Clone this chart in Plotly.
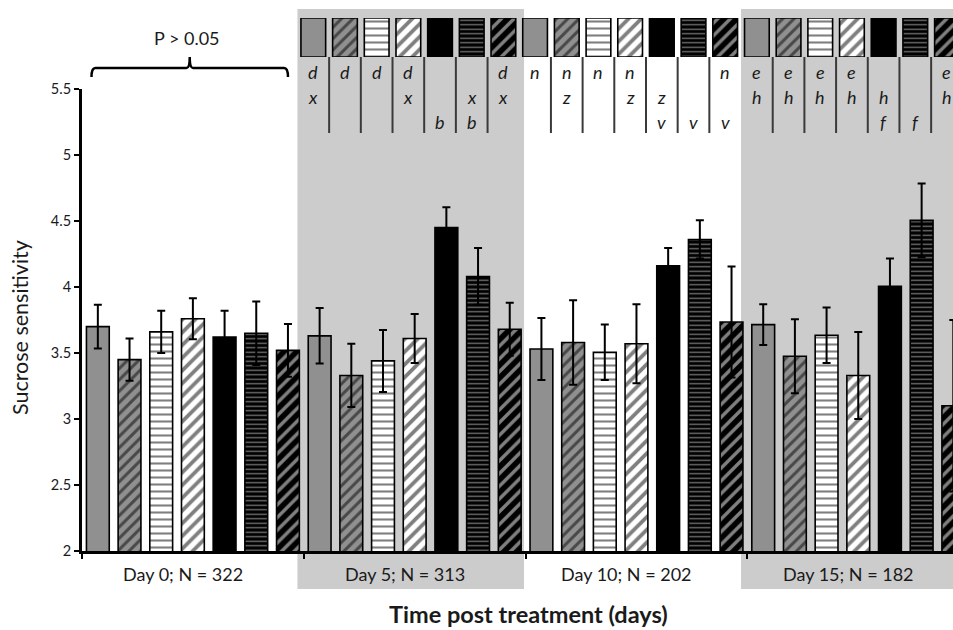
import plotly.graph_objects as go

# ---------------- data ----------------
day_labels = ["Day 0; N = 322", "Day 5; N = 313", "Day 10; N = 202", "Day 15; N = 182"]
y_tick_vals = [2, 2.5, 3, 3.5, 4, 4.5, 5, 5.5]
y_tick_text = ["2", "2.5", "3", "3.5", "4", "4.5", "5", "5.5"]

means_day0 = [3.70, 3.45, 3.66, 3.76, 3.62, 3.65, 3.52]
err_day0 = [0.165, 0.16, 0.16, 0.155, 0.20, 0.24, 0.20]
means_day5 = [3.63, 3.33, 3.44, 3.61, 4.45, 4.08, 3.68]
err_day5 = [0.21, 0.24, 0.235, 0.185, 0.155, 0.215, 0.20]
means_day10 = [3.53, 3.58, 3.505, 3.57, 4.16, 4.36, 3.735]
err_day10 = [0.235, 0.32, 0.21, 0.30, 0.135, 0.145, 0.42]
means_day15 = [3.715, 3.475, 3.635, 3.33, 4.005, 4.505, 3.10]
err_day15 = [0.155, 0.28, 0.21, 0.33, 0.21, 0.28, 0.65]

# significance letters per column (three rows each), days 5, 10, 15
letters_day5 = [["d", "x", ""], ["d", "", ""], ["d", "", ""], ["d", "x", ""],
                ["", "", "b"], ["", "x", "b"], ["d", "x", ""]]
letters_day10 = [["n", "", ""], ["n", "z", ""], ["n", "", ""], ["n", "z", ""],
                 ["", "z", "v"], ["", "", "v"], ["n", "", "v"]]
letters_day15 = [["e", "h", ""], ["e", "h", ""], ["e", "h", ""], ["e", "h", ""],
                 ["", "h", "f"], ["", "", "f"], ["e", "h", ""]]
p_label = "P > 0.05"

means = [means_day0, means_day5, means_day10, means_day15]
errs = [err_day0, err_day5, err_day10, err_day15]
letters = [None, letters_day5, letters_day10, letters_day15]

# ---------------- styles ----------------
GRAY = "#909090"
styles = [
    dict(color=GRAY, pattern=None),
    dict(color=GRAY, pattern=dict(shape="/", fgcolor="black", size=8, solidity=0.38, fillmode="overlay")),
    dict(color="white", pattern=dict(shape="-", fgcolor="black", size=7, solidity=0.3, fillmode="overlay")),
    dict(color="white", pattern=dict(shape="/", fgcolor="black", size=9, solidity=0.42, fillmode="overlay")),
    dict(color="black", pattern=None),
    dict(color="black", pattern=dict(shape="-", fgcolor="#e6e6e6", size=4.5, solidity=0.3, fillmode="overlay")),
    dict(color="black", pattern=dict(shape="/", fgcolor="white", size=9, solidity=0.38, fillmode="overlay")),
]

W, H = 953, 630
FONT = "Lato"
TXT = "#1a1a1a"
n_groups = len(means)
n_treat = len(means_day0)
SHIFT = -0.2  # header table offset


def py(px):
    return 1 - px / H


fig = go.Figure()

for k in range(n_treat):
    st = styles[k]
    marker = dict(color=st["color"], line=dict(color="black", width=1.6))
    if st["pattern"]:
        marker["pattern"] = st["pattern"]
    fig.add_trace(go.Bar(
        x=[g * n_treat + k for g in range(n_groups)],
        y=[means[g][k] for g in range(n_groups)],
        width=0.72,
        marker=marker,
        error_y=dict(type="data", array=[errs[g][k] for g in range(n_groups)],
                     color="black", thickness=2, width=4),
        showlegend=False, hoverinfo="skip",
    ))
    # header swatches
    fig.add_trace(go.Bar(
        x=[g * n_treat + k + SHIFT for g in range(1, n_groups)],
        y=[1] * (n_groups - 1), base=0,
        width=0.78,
        marker=marker,
        yaxis="y2",
        showlegend=False, hoverinfo="skip",
    ))

shapes = []
annotations = []

# shaded day bands
for g in (1, 3):
    shapes.append(dict(type="rect", xref="x", yref="paper",
                       x0=g * n_treat - 0.7, x1=g * n_treat + 6.45,
                       y0=py(589), y1=py(9),
                       fillcolor="#cccccc", line=dict(width=0), layer="below"))

# letters and separators
row_px = [72, 97, 122]
for g in range(1, n_groups):
    for k in range(n_treat):
        xc = g * n_treat + k + SHIFT
        for r, t in enumerate(letters[g][k]):
            if t:
                annotations.append(dict(x=xc, y=py(row_px[r]), xref="x", yref="paper",
                                        text="<i>" + t + "</i>", showarrow=False,
                                        font=dict(family=FONT, size=18, color=TXT),
                                        xanchor="center", yanchor="middle"))
        if k < n_treat - 1:
            shapes.append(dict(type="line", xref="x", yref="paper",
                               x0=xc + 0.5, x1=xc + 0.5, y0=py(133), y1=py(57),
                               line=dict(color="#3a3a3a", width=2)))

# brace over day 0
bx0, bx1 = -0.2, 6.0
bm = (bx0 + bx1) / 2
yl, yh, yt = py(68), py(77), py(57)
brace = (f"M {bx0},{yh} Q {bx0},{yl} {bx0+0.12},{yl} L {bm-0.1},{yl} Q {bm},{yl} {bm},{yt} "
         f"Q {bm},{yl} {bm+0.1},{yl} L {bx1-0.12},{yl} Q {bx1},{yl} {bx1},{yh}")
shapes.append(dict(type="path", xref="x", yref="paper", path=brace,
                   line=dict(color="black", width=2.5)))
annotations.append(dict(x=bm - 0.1, y=py(38), xref="x", yref="paper", text=p_label,
                        showarrow=False, xanchor="center", yanchor="middle",
                        font=dict(family=FONT, size=18, color=TXT)))

# day labels
for g, lab in enumerate(day_labels):
    annotations.append(dict(x=g * n_treat + 3 - 0.3, y=py(574), xref="x", yref="paper",
                            text=lab, showarrow=False, xanchor="center", yanchor="middle",
                            font=dict(family=FONT, size=18, color=TXT)))

# axis titles
annotations.append(dict(x=(528 - 82) / 871, y=py(614), xref="paper", yref="paper",
                        text="<b>Time post treatment (days)</b>", showarrow=False,
                        xanchor="center", yanchor="middle",
                        font=dict(family=FONT, size=23.5, color=TXT)))
annotations.append(dict(x=(20 - 82) / 871, y=py(328), xref="paper", yref="paper",
                        text="Sucrose sensitivity", textangle=-90, showarrow=False,
                        xanchor="center", yanchor="middle",
                        font=dict(family=FONT, size=21.5, color=TXT)))

fig.update_layout(
    width=W, height=H,
    margin=dict(l=82, r=0, t=0, b=0),
    paper_bgcolor="white", plot_bgcolor="rgba(0,0,0,0)",
    barmode="overlay",
    font=dict(family=FONT, color=TXT),
    shapes=shapes, annotations=annotations,
    xaxis=dict(range=[-0.5, 26.99], domain=[0, 1], showgrid=False, zeroline=False,
               showline=True, linecolor="black", linewidth=3,
               ticks="outside", tickvals=[-0.5, 6.5, 13.5, 20.5], ticklen=5, tickwidth=2,
               tickcolor="black", showticklabels=False, fixedrange=True),
    yaxis=dict(range=[2, 5.5], domain=[py(551), py(89)], showgrid=False, zeroline=False,
               showline=True, linecolor="black", linewidth=3,
               ticks="outside", tickvals=y_tick_vals, ticktext=y_tick_text,
               ticklen=5, tickwidth=2, tickcolor="black",
               tickfont=dict(family=FONT, size=14.5, color=TXT), automargin=False),
    yaxis2=dict(range=[0, 1], domain=[py(57), py(18)], anchor="x", visible=False),
)

fig.write_html("out.html", config={"displayModeBar": False},
               post_script="document.body.style.margin='0';document.body.style.overflow='hidden';")
